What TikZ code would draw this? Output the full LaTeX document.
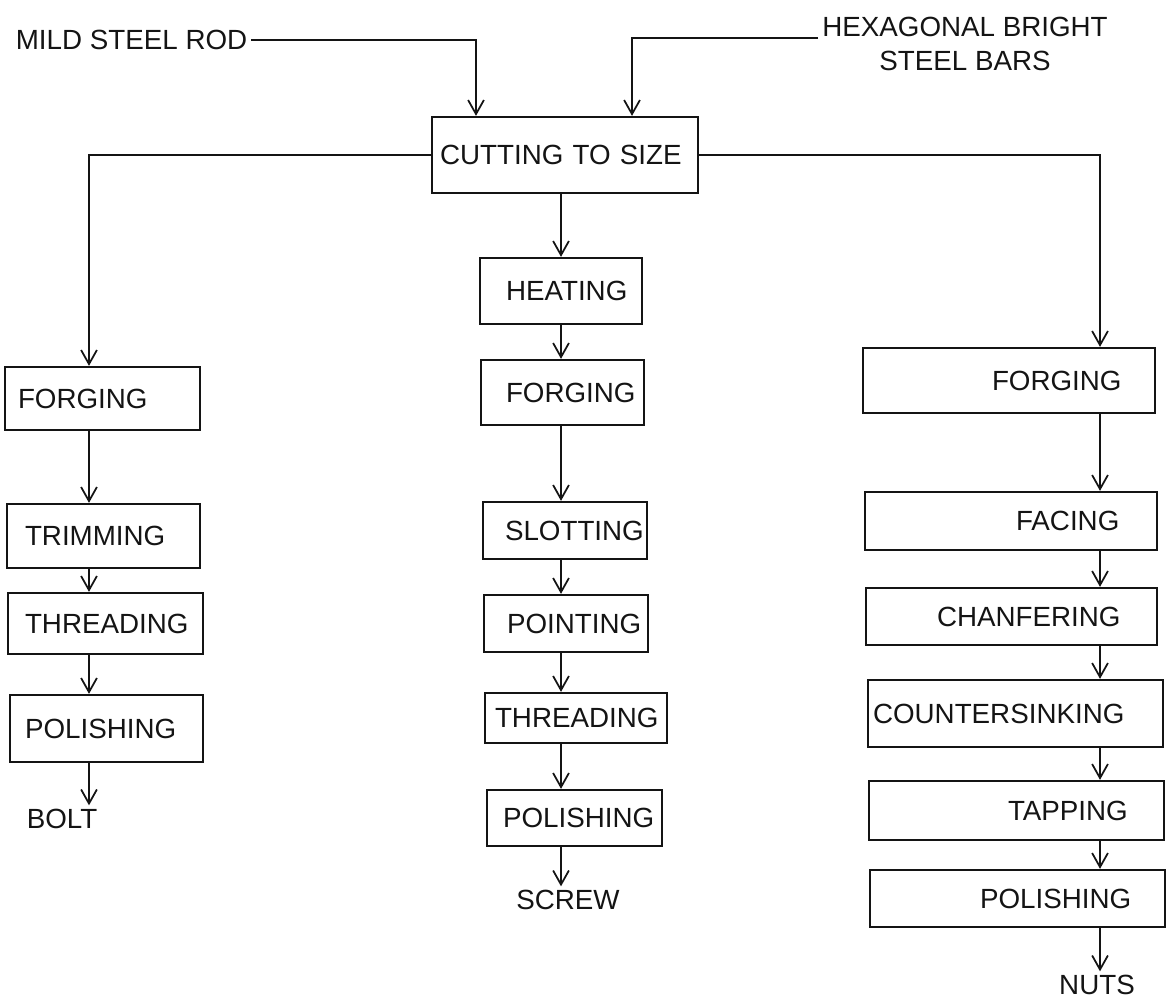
\documentclass[tikz,border=0pt]{standalone}
\usepackage{fontspec}
\setmainfont{Liberation Sans}
\usepackage{tikz}
\usetikzlibrary{arrows.meta, positioning, calc}
\definecolor{ink}{RGB}{20, 20, 20}
\hyphenpenalty=10000
\exhyphenpenalty=10000
\tikzset{
    stage/.style={rectangle, draw=ink, line width=1.3pt, text=ink, inner xsep=0pt, inner ysep=0pt, align=left, font=\fontsize{15.8}{19}\selectfont},
    tag/.style={inner sep=2pt, align=center, text=ink, font=\fontsize{15.8}{19}\selectfont},
    arr/.style={-{Straight Barb[length=8pt, width=9pt, line width=1pt]}, line width=0.9pt, ink}
}

\begin{document}
\begin{tikzpicture}[x=0.02cm, y=-0.02cm]
        \useasboundingbox (0,0) rectangle (1169,1005);

        \node[tag, anchor=west] (mild) at (12,40) {MILD STEEL ROD};
        \node[tag] (hex) at (965,44) {HEXAGONAL BRIGHT\\STEEL BARS};
        \node[stage, minimum width=5.32cm, minimum height=1.52cm, text width=5.32cm] (cut) at (565,155) {\hspace*{0.16cm}CUTTING TO SIZE};

        \node[stage, minimum width=3.9cm, minimum height=1.26cm, text width=3.9cm] (forgeL) at (102.5,398.5) {\hspace*{0.26cm}FORGING};
        \node[stage, minimum width=3.86cm, minimum height=1.28cm, text width=3.86cm] (trimL) at (103.5,536) {\hspace*{0.36cm}TRIMMING};
        \node[stage, minimum width=3.9cm, minimum height=1.22cm, text width=3.9cm] (threadL) at (105.5,623.5) {\hspace*{0.34cm}THREADING};
        \node[stage, minimum width=3.86cm, minimum height=1.34cm, text width=3.86cm] (polishL) at (106.5,728.5) {\hspace*{0.3cm}POLISHING};
        \node[tag] (bolt) at (62,819) {BOLT};

        \node[stage, minimum width=3.24cm, minimum height=1.32cm, text width=3.24cm] (heat) at (561,291) {\hspace*{0.52cm}HEATING};
        \node[stage, minimum width=3.26cm, minimum height=1.3cm, text width=3.26cm] (forgeM) at (562.5,392.5) {\hspace*{0.5cm}FORGING};
        \node[stage, minimum width=3.28cm, minimum height=1.14cm, text width=3.28cm] (slotM) at (565,530.5) {\hspace*{0.44cm}SLOTTING};
        \node[stage, minimum width=3.28cm, minimum height=1.14cm, text width=3.28cm] (pointM) at (566,623.5) {\hspace*{0.46cm}POINTING};
        \node[stage, minimum width=3.64cm, minimum height=1.0cm, text width=3.64cm] (threadM) at (576,718) {\hspace*{0.2cm}THREADING};
        \node[stage, minimum width=3.5cm, minimum height=1.12cm, text width=3.5cm] (polishM) at (574.5,818) {\hspace*{0.32cm}POLISHING};
        \node[tag] (screw) at (568,900) {SCREW};

        \node[stage, minimum width=5.84cm, minimum height=1.3cm, text width=5.84cm] (forgeR) at (1009,380.5) {\hspace*{2.58cm}FORGING};
        \node[stage, minimum width=5.84cm, minimum height=1.16cm, text width=5.84cm] (faceR) at (1011,521) {\hspace*{3.02cm}FACING};
        \node[stage, minimum width=5.82cm, minimum height=1.14cm, text width=5.82cm] (chamR) at (1011.5,616.5) {\hspace*{1.42cm}CHANFERING};
        \node[stage, minimum width=5.9cm, minimum height=1.34cm, text width=5.9cm] (csinkR) at (1015.5,713.5) {\hspace*{0.1cm}COUNTERSINKING};
        \node[stage, minimum width=5.9cm, minimum height=1.18cm, text width=5.9cm] (tapR) at (1016.5,810.5) {\hspace*{2.78cm}TAPPING};
        \node[stage, minimum width=5.9cm, minimum height=1.14cm, text width=5.9cm] (polishR) at (1017.5,898.5) {\hspace*{2.2cm}POLISHING};
        \node[tag] (nuts) at (1097,985) {NUTS};

        \coordinate (feedA) at (476,0);
        \coordinate (feedB) at (632,0);
        \coordinate (hexend) at (818,38);
        \coordinate (colL) at (89,0);
        \coordinate (colM) at (561,0);
        \coordinate (colR) at (1100,0);

        \draw[arr] (mild.east) -| (cut.north -| feedA);
        \draw[arr] (hexend) -| (cut.north -| feedB);
        \draw[arr] (cut.west) -| (forgeL.north -| colL);
        \draw[arr] (cut.east) -| (forgeR.north -| colR);
        \draw[arr] (cut.south -| colM) -- (heat.north -| colM);

        \draw[arr] (forgeL.south -| colL) -- (trimL.north -| colL);
        \draw[arr] (trimL.south -| colL) -- (threadL.north -| colL);
        \draw[arr] (threadL.south -| colL) -- (polishL.north -| colL);
        \draw[arr] (polishL.south -| colL) -- (bolt.north -| colL);

        \draw[arr] (heat.south -| colM) -- (forgeM.north -| colM);
        \draw[arr] (forgeM.south -| colM) -- (slotM.north -| colM);
        \draw[arr] (slotM.south -| colM) -- (pointM.north -| colM);
        \draw[arr] (pointM.south -| colM) -- (threadM.north -| colM);
        \draw[arr] (threadM.south -| colM) -- (polishM.north -| colM);
        \draw[arr] (polishM.south -| colM) -- (screw.north -| colM);

        \draw[arr] (forgeR.south -| colR) -- (faceR.north -| colR);
        \draw[arr] (faceR.south -| colR) -- (chamR.north -| colR);
        \draw[arr] (chamR.south -| colR) -- (csinkR.north -| colR);
        \draw[arr] (csinkR.south -| colR) -- (tapR.north -| colR);
        \draw[arr] (tapR.south -| colR) -- (polishR.north -| colR);
        \draw[arr] (polishR.south -| colR) -- (nuts.north -| colR);
    \end{tikzpicture}
\end{document}
